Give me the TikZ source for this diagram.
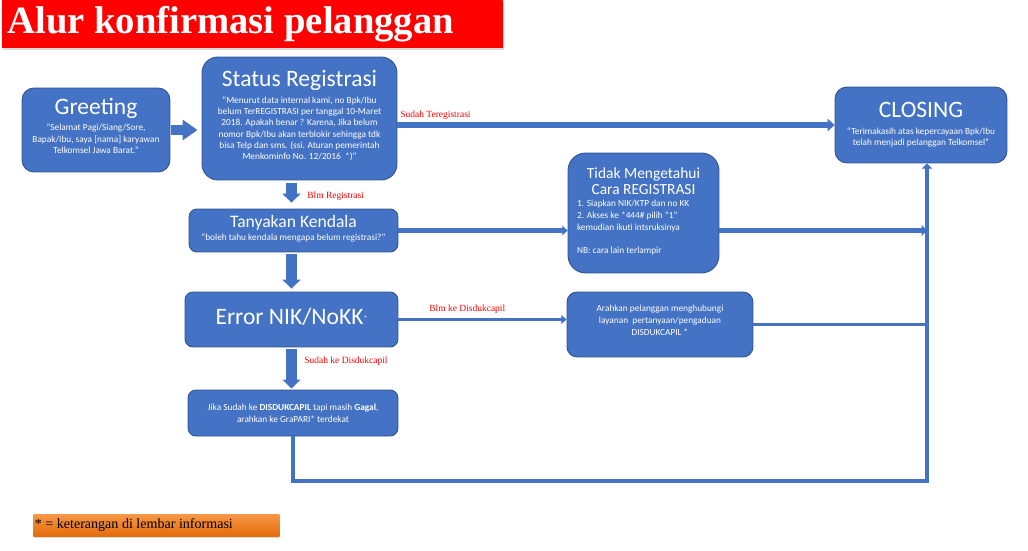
\documentclass[tikz,border=0pt]{standalone}
\usepackage{fontspec}
\setmainfont{Liberation Serif}
\newfontfamily\boxfont{Carlito}
\usetikzlibrary{arrows.meta,shadows,positioning}

\definecolor{boxblue}{HTML}{4472C4}
\definecolor{boxedge}{HTML}{2F528F}
\definecolor{titlered}{HTML}{FF0000}

\newcommand{\ttlfont}{\fontsize{13.4}{14}\selectfont}
\newcommand{\bodyfont}{\fontsize{5.3}{6.4}\selectfont}
\newcommand{\normspace}{\spaceskip=0pt \xspaceskip=0pt\relax}
\newcommand{\boxpar}{\centering\normspace}
\newcommand{\padbot}[1]{\par\vskip#1\kern0pt}

\begin{document}
\begin{tikzpicture}[x=0.02cm, y=-0.02cm,
    box/.style={draw=boxedge, line width=0.5pt, fill=boxblue, text=white, font=\boxfont, inner sep=0pt},
    conn/.style={draw=boxblue, line width=2.8pt},
    thinconn/.style={draw=boxblue, line width=2pt},
    bigarrow/.style={draw=boxblue, line width=5.7pt, -{Triangle[width=10.2pt, length=5.1pt]}},
    lbl/.style={text=titlered, font=\fontsize{5.4}{6}\selectfont, anchor=west, inner sep=0pt}]

    \useasboundingbox (0, 0) rectangle (1028, 551);

    \node[fill=titlered, anchor=north west, minimum width=10.02cm, minimum height=0.96cm, text width=9.82cm, inner xsep=0.1cm, inner ysep=0pt, text=white, font=\fontsize{22}{24}\selectfont\bfseries, drop shadow={shadow xshift=0.6pt, shadow yshift=-0.8pt, opacity=0.3}] (judul) at (2, 0) {\raggedright\normspace Alur konfirmasi pelanggan\par};

    \node[box, rounded corners=6.8pt, minimum width=2.96cm, minimum height=1.68cm, text width=2.9cm] (greet) at (96, 130)
        {\boxpar{\ttlfont Greeting\par}\vskip2.8pt
         \bodyfont “Selamat Pagi/Siang/Sore,\\ Bapak/Ibu, saya [nama] karyawan\\ Telkomsel Jawa Barat.”\padbot{4.5pt}};

    \node[box, rounded corners=9pt, minimum width=3.9cm, minimum height=2.46cm, text width=3.8cm] (status) at (299.5, 118.5)
        {\boxpar{\ttlfont Status Registrasi\par}\vskip3.3pt
         \bodyfont “Menurut data internal kami, no Bpk/Ibu\\ belum TerREGISTRASI per tanggal 10-Maret\\ 2018. Apakah benar ? Karena, Jika belum\\ nomor Bpk/Ibu akan terblokir sehingga tdk\\ bisa Telp dan sms. (ssi. Aturan pemerintah\\ Menkominfo No. 12/2016~~*)”\padbot{3.4pt}};

    \node[box, rounded corners=6.8pt, minimum width=3.44cm, minimum height=1.52cm, text width=3.4cm] (closing) at (921, 125)
        {\boxpar{\ttlfont CLOSING\par}\vskip3pt
         \bodyfont “Terimakasih atas kepercayaan Bpk/Ibu\\ telah menjadi pelanggan Telkomsel”\par};

    \node[box, rounded corners=4.5pt, minimum width=4.18cm, minimum height=0.86cm, text width=4.1cm] (tanya) at (293.5, 230.5)
        {\boxpar{\fontsize{10}{11}\selectfont Tanyakan Kendala\par}\vskip1.4pt
         \bodyfont “boleh tahu kendala mengapa belum registrasi?”\padbot{2.1pt}};

    \node[box, rounded corners=10pt, minimum width=3.02cm, minimum height=2.4cm, text width=2.66cm] (tidak) at (643.5, 213)
        {\normspace{\centering\fontsize{8.8}{9.6}\selectfont Tidak Mengetahui\\ Cara REGISTRASI\par}\vskip-0.4pt
         {\raggedright\fontsize{5.3}{6.8}\selectfont 1. Siapkan NIK/KTP dan no KK\\ 2. Akses ke *444\# pilih “1”\\ kemudian ikuti intsruksinya\\[6.3pt] NB: cara lain terlampir\par}\padbot{2.3pt}};

    \node[box, rounded corners=4.5pt, minimum width=4.26cm, minimum height=1.1cm, text width=4.2cm] (err) at (291.5, 319.5)
        {\boxpar\ttlfont Error NIK/NoKK\raisebox{1.5pt}{\fontsize{4.5}{4.5}\selectfont *}\padbot{3.4pt}};

    \node[box, rounded corners=5.7pt, minimum width=3.72cm, minimum height=1.3cm, text width=3.6cm] (disduk) at (660, 324.5)
        {\boxpar\fontsize{5.3}{6.8}\selectfont Arahkan pelanggan menghubungi\\ layanan~~pertanyaan/pengaduan\\ DISDUKCAPIL *\padbot{4.5pt}};

    \node[box, rounded corners=4.5pt, minimum width=4.2cm, minimum height=0.92cm, text width=4.1cm] (jika) at (293, 413)
        {\boxpar\fontsize{5.3}{6.8}\selectfont Jika Sudah ke \textbf{DISDUKCAPIL} tapi masih \textbf{Gagal},\\ arahkan ke GraPARI* terdekat\par};

    \coordinate (rail) at (927, 481);

    \draw[bigarrow, line width=6.2pt, -{Triangle[width=11.3pt, length=8.5pt]}, shorten <=0.5pt, shorten >=2.3pt] (greet.east) -- (greet.east -| status.west);
    \draw[bigarrow, shorten <=1.7pt, shorten >=3.4pt] (status.south -| err.south) -- (tanya.north -| err.south);
    \draw[bigarrow, shorten <=1.1pt, shorten >=1.7pt] (tanya.south -| err.south) -- (err.north);
    \draw[bigarrow, shorten <=1.1pt, shorten >=0.6pt] (err.south) -- (jika.north -| err.south);

    \draw[conn, line width=3pt, -{Triangle[width=7pt, length=4pt]}] (status.east |- closing.west) -- (closing.west);
    \draw[conn, line width=2.4pt, -{Triangle[width=5.5pt, length=3pt]}] (tanya.east) -- (tanya.east -| tidak.west);
    \draw[conn, -{Triangle[width=6pt, length=3pt]}] (tidak.east |- tanya.east) -- (tanya.east -| rail);
    \draw[thinconn, -{Triangle[width=5pt, length=3pt]}] (err.east) -- (err.east -| disduk.west);
    \draw[thinconn, line width=1.5pt] (disduk.east) -- (disduk.east -| rail);
    \draw[conn, -{Triangle[width=6pt, length=3pt]}] (jika.south) |- (rail) -- (rail |- closing.south);

    \node[lbl] (sudahreg) at (400, 115) {Sudah Teregistrasi};
    \node[lbl] (blmreg) at (307, 196) {Blm Registrasi};
    \node[lbl] (blmdisduk) at (429, 309) {Blm ke Disdukcapil};
    \node[lbl] (sudahdisduk) at (304, 361) {Sudah ke Disdukcapil};

    \node[anchor=north west, minimum width=4.92cm, minimum height=0.44cm, text width=4.86cm, inner xsep=0.03cm, inner ysep=0pt, font=\fontsize{8}{9}\selectfont, top color={rgb,255:red,247;green,150;blue,70}, bottom color={rgb,255:red,228;green,108;blue,10}, drop shadow={shadow xshift=0.6pt, shadow yshift=-0.8pt, opacity=0.3}] (catatan) at (33, 514) {\raggedright\normspace * = keterangan di lembar informasi\par};

\end{tikzpicture}
\end{document}
